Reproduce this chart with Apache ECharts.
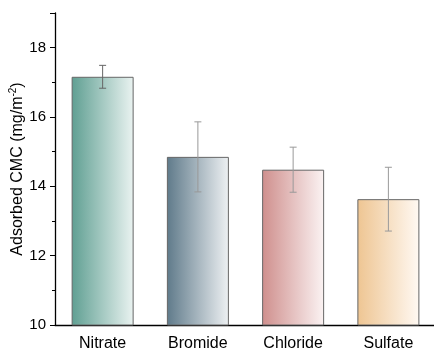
<!DOCTYPE html>
<html><head><meta charset="utf-8">
<script src="https://cdn.jsdelivr.net/npm/echarts@6/dist/echarts.min.js"></script>
<style>html,body{margin:0;padding:0;background:#fff}#c{width:434px;height:349px}</style>
</head><body><div id="c"></div>
<script>
const categories = ['Nitrate', 'Bromide', 'Chloride', 'Sulfate'];
const values = [17.16, 14.85, 14.48, 13.63];
const errors = [0.33, 1.01, 0.65, 0.92];
const leftColors = ['#5f9f92', '#5f7a8a', '#cf8f8d', '#eec592'];
const rightColors = ['#eaf3f1', '#eef1f3', '#fbf3f3', '#fff9f3'];
const yTicks = [10, 12, 14, 16, 18];

const font = '"Liberation Sans", Arial, sans-serif';
const chart = echarts.init(document.getElementById('c'));
chart.setOption({
  animation: false,
  grid: {left: 55, right: -2, top: 13, bottom: 24, containLabel: false, outerBoundsMode: 'none'},
  xAxis: [{
    type: 'category', data: categories,
    axisLine: {lineStyle: {color: '#000', width: 1.3}},
    axisTick: {alignWithLabel: true, length: 5, lineStyle: {color: '#000'}},
    axisLabel: {color: '#000', fontSize: 16, fontFamily: font, margin: 11}
  }, {
    type: 'category', data: categories, position: 'bottom',
    axisLine: {show: false},
    axisTick: {alignWithLabel: false, length: 3, lineStyle: {color: '#000'}},
    axisLabel: {show: false}
  }],
  yAxis: {
    type: 'value', min: 10, max: 19, interval: 2,
    axisLine: {show: true, lineStyle: {color: '#000', width: 1.3}},
    axisTick: {show: true, length: 5, lineStyle: {color: '#000'}},
    minorTick: {show: true, splitNumber: 2, length: 3, lineStyle: {color: '#000'}},
    splitLine: {show: false},
    axisLabel: {color: '#000', fontSize: 15, fontFamily: font, margin: 9,
      formatter: v => yTicks.includes(v) ? String(v) : ''},
    name: 'Adsorbed CMC (mg/m{s|-2})', nameLocation: 'middle', nameGap: 28,
    nameMoveOverlap: false,
    nameTextStyle: {color: '#000', fontSize: 16, fontFamily: font,
      rich: {s: {fontSize: 10, verticalAlign: 'top', padding: [0,0,9,0], fontFamily: font, color: '#000'}}}
  },
  series: [{
    type: 'bar', barWidth: 62,
    data: values.map((v, i) => ({
      value: v,
      itemStyle: {
        color: new echarts.graphic.LinearGradient(0, 0, 1, 0, [
          {offset: 0, color: leftColors[i]}, {offset: 1, color: rightColors[i]}]),
        borderColor: '#666', borderWidth: 1
      }
    }))
  }, {
    type: 'custom',
    data: values.map((v, i) => [i, v - errors[i], v + errors[i]]),
    renderItem: (params, api) => {
      const lo = api.coord([api.value(0), api.value(1)]);
      const hi = api.coord([api.value(0), api.value(2)]);
      const w = 3.5;
      const st = {stroke: params.dataIndex === 0 ? '#666' : '#999', lineWidth: 1};
      return {type: 'group', children: [
        {type: 'line', shape: {x1: hi[0], y1: hi[1], x2: lo[0], y2: lo[1]}, style: st},
        {type: 'line', shape: {x1: hi[0]-w, y1: hi[1], x2: hi[0]+w, y2: hi[1]}, style: st},
        {type: 'line', shape: {x1: lo[0]-w, y1: lo[1], x2: lo[0]+w, y2: lo[1]}, style: st}
      ]};
    },
    z: 10
  }]
});
</script></body></html>
